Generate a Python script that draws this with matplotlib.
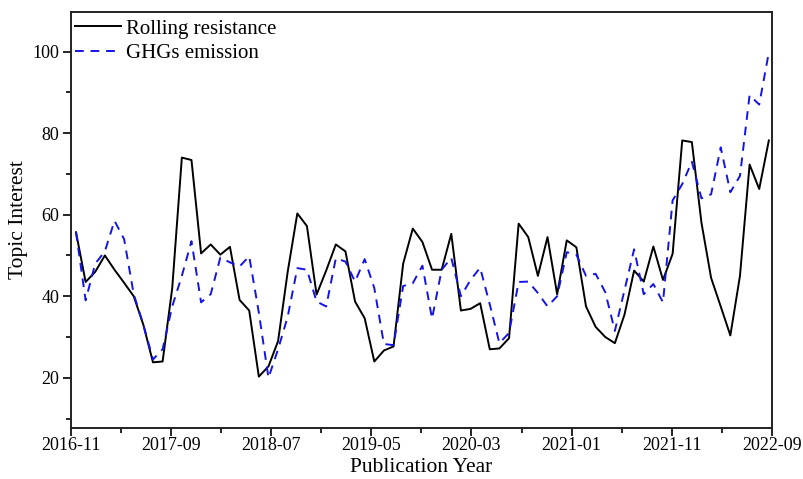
import numpy as np
import matplotlib
matplotlib.use('Agg')
import matplotlib.pyplot as plt
from matplotlib.ticker import MultipleLocator

plt.rcParams['font.family'] = ['Liberation Serif', 'DejaVu Serif']

tick_labels = ['2016-11', '2017-09', '2018-07', '2019-05',
               '2020-03', '2021-01', '2021-11', '2022-09']

# months since 2016-11, one sample roughly every month
months = np.linspace(0.5, 69.7, 73)

rolling = [55.7, 43.5, 46.0, 50.0, 46.5, 43.3, 40.0, 33.0, 23.8, 24.0,
           42.0, 74.0, 73.4, 50.5, 52.7, 50.2, 52.1, 39.1, 36.5, 20.3,
           22.8, 29.0, 46.0, 60.3, 57.2, 40.4, 46.3, 52.7, 51.0, 38.7,
           34.6, 24.0, 26.7, 27.7, 48.0, 56.6, 53.3, 46.5, 46.5, 55.3,
           36.5, 36.9, 38.3, 27.0, 27.2, 29.7, 57.8, 54.5, 45.0, 54.5,
           40.5, 53.7, 52.0, 37.5, 32.5, 30.0, 28.5, 35.5, 46.3, 43.6,
           52.2, 44.0, 50.4, 78.2, 77.8, 58.0, 44.5, 37.5, 30.4, 45.0,
           72.3, 66.3, 78.2]

ghgs = [55.7, 39.0, 48.0, 51.0, 58.5, 54.0, 40.5, 33.0, 24.5, 27.0,
        37.5, 45.0, 53.5, 38.5, 40.5, 49.5, 48.3, 47.3, 49.8, 36.0,
        20.0, 27.0, 35.0, 46.9, 46.5, 38.7, 37.5, 49.3, 48.5, 43.6,
        49.1, 42.0, 28.3, 28.0, 42.5, 43.2, 47.5, 34.5, 46.5, 49.4,
        40.0, 44.0, 47.0, 38.0, 28.5, 31.0, 43.5, 43.6, 40.8, 37.5,
        40.0, 50.8, 50.2, 45.0, 45.5, 41.0, 31.5, 41.5, 51.5, 40.5,
        43.0, 38.5, 63.5, 67.5, 73.0, 64.0, 65.0, 76.5, 65.5, 69.5,
        89.3, 87.0, 99.8]

fig = plt.figure(figsize=(8.04, 4.79), dpi=100)
ax = fig.add_axes([0.0883, 0.1065, 0.8717, 0.8685])

ax.plot(months, rolling, color='black', lw=1.4, label='Rolling resistance')
ax.plot(months, ghgs, color='#1414e6', lw=1.4, ls=(0, (4.5, 3.5)),
        label='GHGs emission')

ax.set_xlim(0, 70)
ax.set_ylim(7.7, 109.7)
ax.set_xticks(np.arange(0, 71, 10))
ax.set_xticklabels(tick_labels)
ax.xaxis.set_minor_locator(MultipleLocator(5))
ax.yaxis.set_major_locator(MultipleLocator(20))
ax.yaxis.set_minor_locator(MultipleLocator(10))

ax.tick_params(which='major', direction='out', length=6, width=1.2,
               labelsize=13, top=False, right=False)
ax.tick_params(axis='x', pad=0.5)
ax.tick_params(axis='y', pad=2.5)
ax.tick_params(which='minor', direction='out', length=3.5, width=1.2,
               top=False, right=False)
for s in ax.spines.values():
    s.set_linewidth(1.4)
    s.set_color('#222222')

ax.set_xlabel('Publication Year', fontsize=15.5, labelpad=3)
ax.set_ylabel('Topic Interest', fontsize=15.5, labelpad=3)

ax.legend(loc='upper left', bbox_to_anchor=(0, 0.993), frameon=False,
          fontsize=15, handlelength=2.2, handletextpad=0.25,
          labelspacing=0.24, borderaxespad=0.1, borderpad=0.1)

fig.savefig('out.png', dpi=100)
